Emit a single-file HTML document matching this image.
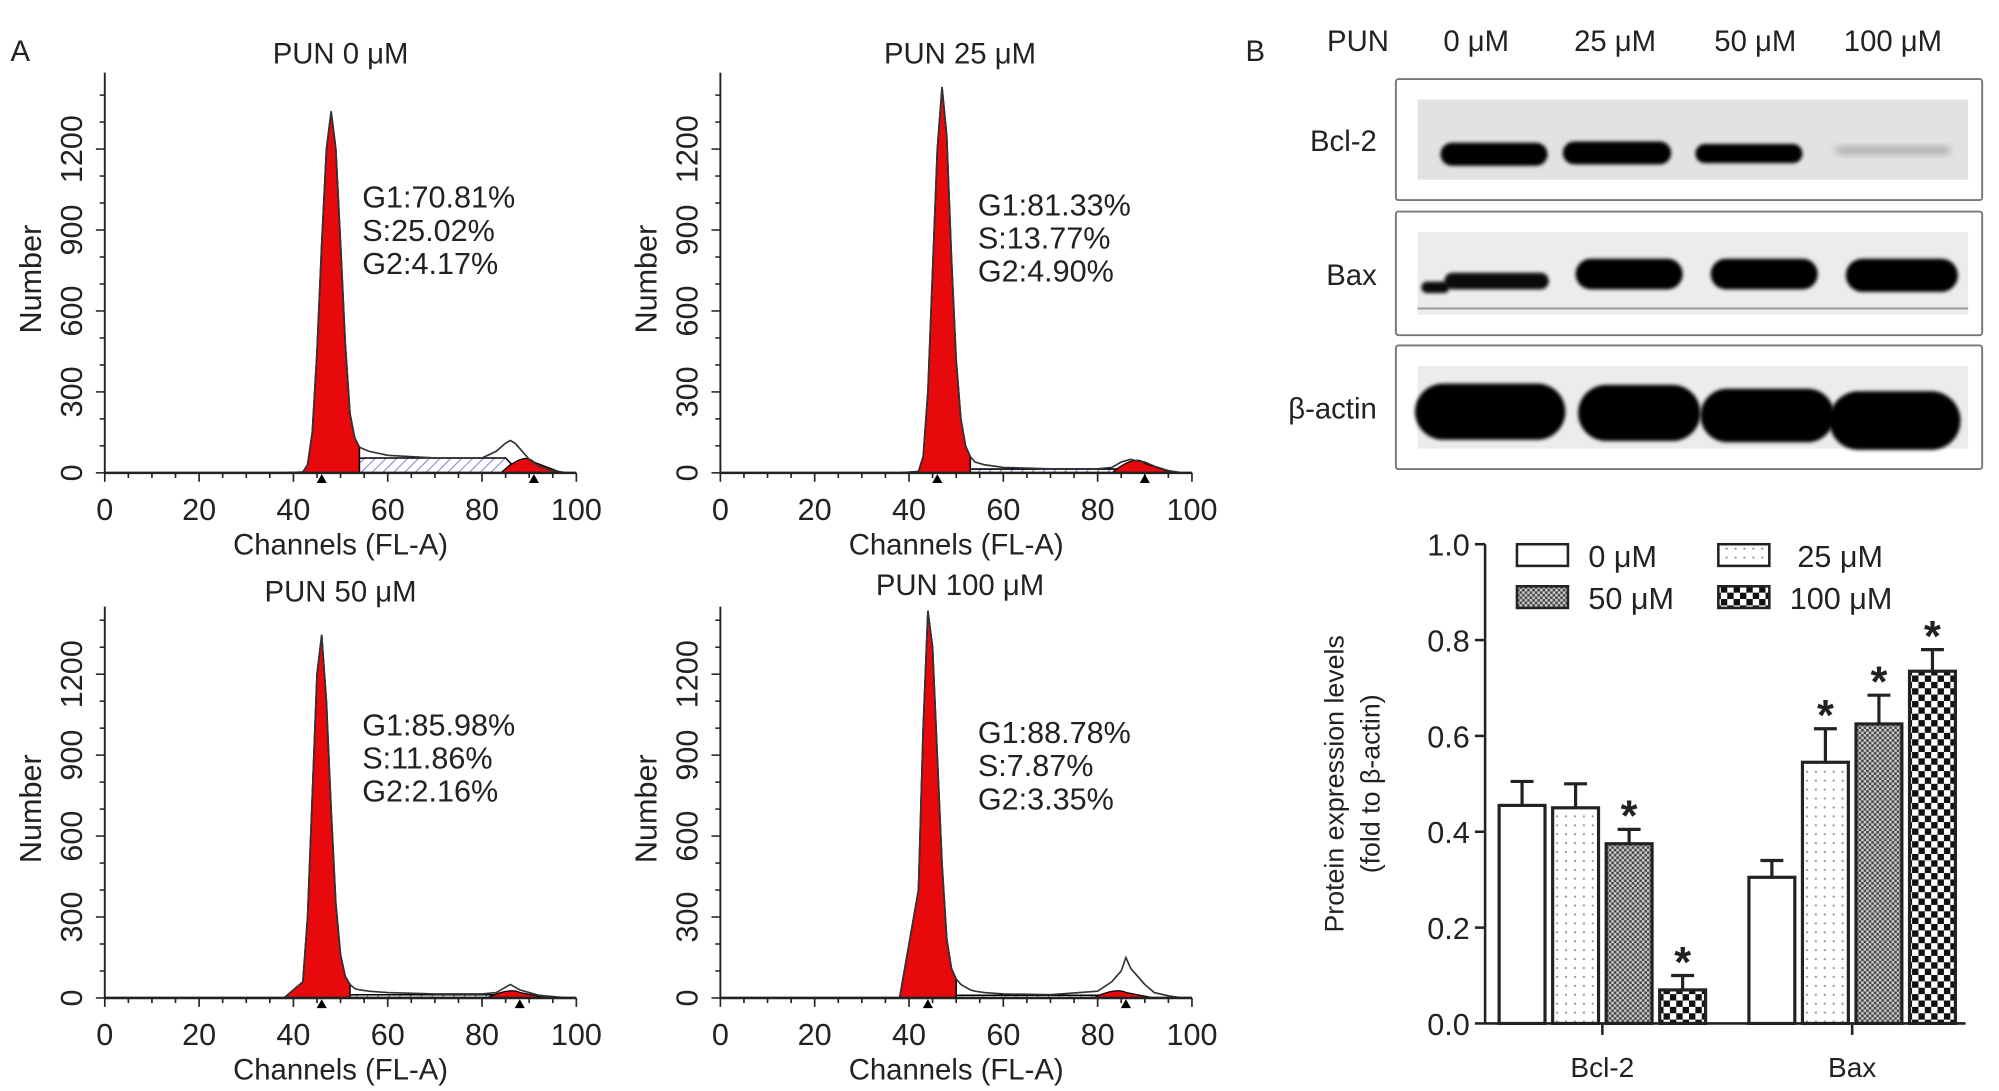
<!DOCTYPE html>
<html><head><meta charset="utf-8">
<style>
html,body{margin:0;padding:0;background:#fff;width:1999px;height:1091px;overflow:hidden}
svg{display:block}
text{font-family:"Liberation Sans",Arial,sans-serif;fill:#222}
</style></head>
<body>
<svg id="fig" width="1999" height="1091" viewBox="0 0 1568 856" xmlns="http://www.w3.org/2000/svg">
<defs>
<pattern id="hatch" patternUnits="userSpaceOnUse" width="6" height="6" patternTransform="rotate(45)">
<line x1="0" y1="0" x2="0" y2="6" stroke="#5a5acc" stroke-width="1.2"/></pattern>
<pattern id="dots" patternUnits="userSpaceOnUse" width="7" height="7">
<rect width="7" height="7" fill="#fff"/><circle cx="3.5" cy="3.5" r="0.9" fill="#999"/></pattern>
<pattern id="cross" patternUnits="userSpaceOnUse" width="4" height="4">
<rect width="4" height="4" fill="#ccc"/><rect width="2" height="2" fill="#444"/><rect x="2" y="2" width="2" height="2" fill="#444"/></pattern>
<pattern id="check" patternUnits="userSpaceOnUse" width="10" height="10">
<rect width="10" height="10" fill="#fff"/><rect width="5" height="5" fill="#111"/><rect x="5" y="5" width="5" height="5" fill="#111"/></pattern>
<filter id="blur" x="-20%" y="-50%" width="140%" height="200%"><feGaussianBlur stdDeviation="3"/></filter>
<filter id="blur2" x="-20%" y="-50%" width="140%" height="200%"><feGaussianBlur stdDeviation="1.5"/></filter>
</defs>
<g id="panelA"></g>
<g id="panelB"></g>
<g id="barchart"></g>
</svg>
<script>
// ---------- Histogram data ----------
const chans = [38,42,43,44,45,46,47,48,49,50,51,52,53,54,56,60,70,80,83,85,86,87,88,90,92,95,98];
const countsTL = [0,3,30,150,450,850,1200,1340,1200,850,480,220,130,95,80,65,55,55,80,110,120,110,90,50,25,8,0];
const countsTR = [0,5,60,300,750,1200,1430,1250,800,420,200,100,60,40,30,20,15,15,20,40,45,50,45,40,25,8,0];
const countsBL = [0,60,300,750,1200,1346,1100,700,350,160,80,50,35,30,25,20,15,15,20,40,50,40,30,20,10,5,0];
const countsBR = [0,400,1000,1435,1300,900,500,220,110,70,50,40,30,25,20,15,12,25,60,100,150,110,90,50,20,8,0];
const histTitles = ["PUN 0 \u03bcM","PUN 25 \u03bcM","PUN 50 \u03bcM","PUN 100 \u03bcM"];
const g1Labels = ["G1:70.81%","G1:81.33%","G1:85.98%","G1:88.78%"];
const sLabels = ["S:25.02%","S:13.77%","S:11.86%","S:7.87%"];
const g2Labels = ["G2:4.17%","G2:4.90%","G2:2.16%","G2:3.35%"];
const g1Cut = [54,53,52,50];
const sHeights = [55,14,12,10];
const g2Heights = [40,35,20,20];
const g1Markers = [46,46,46,44];
const g2Markers = [91,90,88,86];
const xTicks = [0,20,40,60,80,100];
const yTicks = [0,300,600,900,1200];

// ---------- Bar data ----------
const groups = ["Bcl-2","Bax"];
const seriesNames = ["0 \u03bcM","25 \u03bcM","50 \u03bcM","100 \u03bcM"];
const bcl2Vals = [0.455,0.45,0.375,0.07];
const bcl2Err = [0.05,0.05,0.03,0.03];
const baxVals = [0.305,0.545,0.625,0.735];
const baxErr = [0.035,0.07,0.06,0.045];
const bcl2Sig = [false,false,true,true];
const baxSig = [false,true,true,true];
const barTicks = [0.0,0.2,0.4,0.6,0.8,1.0];

const NS="http://www.w3.org/2000/svg";
function mk(tag,attrs,parent,txt){const e=document.createElementNS(NS,tag);for(const k in attrs)e.setAttribute(k,attrs[k]);if(txt!==undefined)e.textContent=txt;parent.appendChild(e);return e;}

// ---------- Panel A ----------
const A=document.getElementById('panelA');
let t=mk('text',{x:8,y:48,'font-size':23},A,'A');


const panels=[{x0:82,x1:452,y0:371,top:57,ty:50,counts:countsTL},{x0:565,x1:935,y0:371,top:57,ty:50,counts:countsTR},
{x0:82,x1:452,y0:783,top:476,ty:472,counts:countsBL},{x0:565,x1:935,y0:783,top:476,ty:467,counts:countsBR}];
panels.forEach((p,i)=>{
  const g=mk('g',{},A);
  
  
  const sx=c=>p.x0+(p.x1-p.x0)*c/100;
  const sy=v=>p.y0-v*0.2117;
  const cx=(p.x0+p.x1)/2;
  let e=mk('text',{x:cx+(i%2?3:0),y:p.ty,'font-size':23,'text-anchor':'middle'},g,histTitles[i]);
  
  
  const sStart=g1Cut[i]-4, sEnd=88;
  e=mk('path',{d:`M${sx(sStart)},${p.y0} Q${sx(sStart+2)},${sy(sHeights[i])} ${sx(sStart+5)},${sy(sHeights[i])} L${sx(sEnd-3)},${sy(sHeights[i])} L${sx(sEnd)},${p.y0} Z`,fill:'url(#hatch)',stroke:'#000','stroke-width':1.2},g);
  
  
  let d='';
  chans.forEach((c,k)=>{ if(c<=g1Cut[i]){ d+=(d?'L':'M')+sx(c)+','+sy(p.counts[k]); } });
  d+=`L${sx(g1Cut[i])},${p.y0} L${sx(chans[0])},${p.y0} Z`;
  e=mk('path',{d:d,fill:'#e8090c',stroke:'#000','stroke-width':1.2},g);
  
  
  const gm=g2Markers[i];
  e=mk('path',{d:`M${sx(gm-7)},${p.y0} Q${sx(gm-2)},${sy(g2Heights[i]*2)} ${sx(gm)},${sy(g2Heights[i])} Q${sx(gm+3)},${sy(g2Heights[i]*0.5)} ${sx(gm+6)},${p.y0} Z`,fill:'#e8090c',stroke:'#000','stroke-width':1},g);
  
  
  d='';
  chans.forEach((c,k)=>{d+=(k?'L':'M')+sx(c)+','+sy(p.counts[k]);});
  e=mk('path',{d:d,fill:'none',stroke:'#333','stroke-width':1.3},g);
  
  
  mk('line',{x1:p.x0,y1:p.y0,x2:p.x1,y2:p.y0,stroke:'#222','stroke-width':2},g);
  mk('line',{x1:p.x0,y1:p.y0,x2:p.x0,y2:p.top,stroke:'#222','stroke-width':1.5},g);
  for(let c=0;c<=100;c+=5){mk('line',{x1:sx(c),y1:p.y0,x2:sx(c),y2:p.y0+(c%20==0?7:4),stroke:'#222','stroke-width':1.3},g);}
  xTicks.forEach(c=>{e=mk('text',{x:sx(c),y:p.y0+37,'font-size':24,'text-anchor':'middle'},g,c);
    
    });
  for(let v=0;v<=1400;v+=100){mk('line',{x1:p.x0,y1:sy(v),x2:p.x0-(v%300==0?7:4),y2:sy(v),stroke:'#222','stroke-width':1.2},g);}
  yTicks.forEach(v=>{e=mk('text',{x:p.x0-18,y:sy(v),'font-size':24,'text-anchor':'middle',transform:`rotate(-90 ${p.x0-18} ${sy(v)})`},g,v);
    
    });
  e=mk('text',{x:cx,y:p.y0+64,'font-size':23,'text-anchor':'middle'},g,'Channels (FL-A)');
  
  
  const ty=(p.y0+p.top)/2+5;
  e=mk('text',{x:p.x0-50,y:ty,'font-size':24,'text-anchor':'middle',transform:`rotate(-90 ${p.x0-50} ${ty})`},g,'Number');
  
  
  [g1Markers[i],g2Markers[i]].forEach(c=>{mk('path',{d:`M${sx(c)-4},${p.y0+8} L${sx(c)+4},${p.y0+8} L${sx(c)},${p.y0+1} Z`,fill:'#000'},g);});
  [g1Labels[i],sLabels[i],g2Labels[i]].forEach((s,k)=>{
    e=mk('text',{x:p.x0+202,y:(i<2?163:577)+k*26+(i%2?6:0),'font-size':24},g,s);
    
    });
});

// ---------- Panel B ----------
const B=document.getElementById('panelB');
t=mk('text',{x:977,y:48,'font-size':23},B,'B');


const laneX=[1158,1267,1377,1485];
t=mk('text',{x:1041,y:40,'font-size':23},B,'PUN');


seriesNames.forEach((s,k)=>{t=mk('text',{x:laneX[k],y:40,'font-size':23,'text-anchor':'middle'},B,s);
  
  });
const blots=[{name:'Bcl-2',y:62,h:95},{name:'Bax',y:166,h:97},{name:'\u03b2-actin',y:271,h:97}];
blots.forEach((b,k)=>{
  const g=mk('g',{},B);
  
  
  mk('rect',{x:1095,y:b.y,width:460,height:b.h,fill:'#fff',stroke:'#777','stroke-width':1.5,rx:2},g);
  mk('rect',{x:1112,y:b.y+16,width:432,height:b.h-32,fill:k==0?'#e2e2e2':'#ececec'},g);
  t=mk('text',{x:1080,y:b.y+b.h/2+9,'font-size':23,'text-anchor':'end'},g,b.name);
  
  
});
const band=(x,y,w,h,op,f)=>mk('rect',{x:x,y:y,width:w,height:h,rx:h/2,fill:'#000',opacity:op,filter:f||'url(#blur2)'},B);
band(1130,112,84,18,1);band(1226,111,85,18,1);band(1330,113,84,15,1);band(1440,115,90,6,0.25,'url(#blur)');
band(1115,221,22,9,0.95);band(1133,214,82,13,0.95);band(1236,203,84,24,1);band(1342,203,84,24,1);band(1448,203,88,26,1);
mk('line',{x1:1112,y1:242,x2:1544,y2:242,stroke:'#999','stroke-width':1.5},B);
band(1110,301,118,44,1);band(1238,302,96,44,1);band(1334,305,105,42,1);band(1435,307,103,46,1);

// ---------- Bar chart ----------
const C=document.getElementById('barchart');
const ax0=1165, yZero=803, yOne=427;
const yScale=v=>yZero-(yZero-yOne)*v;
mk('line',{x1:ax0,y1:yZero,x2:ax0,y2:yOne,stroke:'#222','stroke-width':2},C);
mk('line',{x1:ax0,y1:yZero,x2:1542,y2:yZero,stroke:'#222','stroke-width':2},C);
barTicks.forEach(v=>{mk('line',{x1:ax0-8,y1:yScale(v),x2:ax0,y2:yScale(v),stroke:'#222','stroke-width':2},C);
  t=mk('text',{x:ax0-12,y:yScale(v)+9,'font-size':24,'text-anchor':'end'},C,v.toFixed(1));
  
  });
t=mk('text',{x:1054,y:615,'font-size':21,'text-anchor':'middle',transform:'rotate(-90 1054 615)'},C,'Protein expression levels');


t=mk('text',{x:1082,y:615,'font-size':21,'text-anchor':'middle',transform:'rotate(-90 1082 615)'},C,'(fold to \u03b2-actin)');


const fills=['#fff','url(#dots)','url(#cross)','url(#check)'];
const groupStart=[1176,1372];
const pitch=42, bw=36;
[[bcl2Vals,bcl2Err,bcl2Sig],[baxVals,baxErr,baxSig]].forEach((gd,gi)=>{
  const gc=groupStart[gi]+(3*pitch+bw)/2;
  mk('line',{x1:gc,y1:yZero,x2:gc,y2:yZero+9,stroke:'#222','stroke-width':2},C);
  t=mk('text',{x:gc,y:yZero+42,'font-size':22,'text-anchor':'middle'},C,groups[gi]);
  
  
  gd[0].forEach((v,k)=>{
    const x=groupStart[gi]+k*pitch;
    const r=mk('rect',{x:x,y:yScale(v),width:bw,height:yZero-yScale(v),fill:fills[k],stroke:'#222','stroke-width':2.5},C);
    
    
    const ey=yScale(v+gd[1][k]);
    mk('line',{x1:x+bw/2,y1:yScale(v),x2:x+bw/2,y2:ey,stroke:'#222','stroke-width':2.5},C);
    mk('line',{x1:x+bw/2-9,y1:ey,x2:x+bw/2+9,y2:ey,stroke:'#222','stroke-width':2.5},C);
    if(gd[2][k]){t=mk('text',{x:x+bw/2,y:ey+1,'font-size':34,'font-weight':'bold','text-anchor':'middle'},C,'*');
      
      }
  });
});
const legPos=[[1190,436],[1348,436],[1190,469],[1348,469]];
seriesNames.forEach((s,k)=>{
  const g=mk('g',{},C);
  
  
  mk('rect',{x:legPos[k][0],y:legPos[k][1]-9,width:40,height:17,fill:fills[k],stroke:'#222','stroke-width':2},g);
  mk('text',{x:legPos[k][0]+(k==1?62:56),y:legPos[k][1]+9,'font-size':24},g,s);
});
</script>
</body></html>
